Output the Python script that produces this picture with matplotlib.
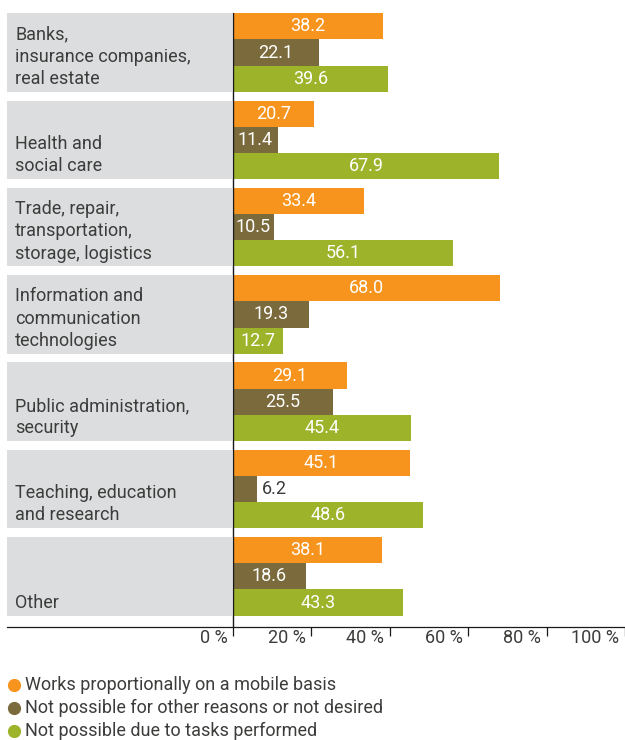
import matplotlib
matplotlib.use("Agg")
import matplotlib.pyplot as plt
from matplotlib.lines import Line2D
from matplotlib.patches import Rectangle

plt.rcParams["font.family"] = ["Roboto", "DejaVu Sans"]

categories = [
    "Banks,\ninsurance companies,\nreal estate",
    "Health and\nsocial care",
    "Trade, repair,\ntransportation,\nstorage, logistics",
    "Information and\ncommunication\ntechnologies",
    "Public administration,\nsecurity",
    "Teaching, education\nand research",
    "Other",
]
mobile = [38.2, 20.7, 33.4, 68.0, 29.1, 45.1, 38.1]
other_reasons = [22.1, 11.4, 10.5, 19.3, 25.5, 6.2, 18.6]
tasks = [39.6, 67.9, 56.1, 12.7, 45.4, 48.6, 43.3]

series = [
    ("Works proportionally on a mobile basis", mobile, "#f7941d"),
    ("Not possible for other reasons or not desired", other_reasons, "#7a6a3c"),
    ("Not possible due to tasks performed", tasks, "#9db32a"),
]
ticks = [0, 20, 40, 60, 80, 100]

W, H = 625, 740
TXT = "#3c3c3b"
GREY = "#dcdddf"
FS = 13

fig = plt.figure(figsize=(W / 100, H / 100), dpi=100)

# axes spans label panels + bars; x=0 sits at the zero line
left_px, right_px, top_px, bot_px = 7, 625, 13.3, 627
zero_px = 233.3
pxper = 3.93
xmin = -(zero_px - left_px) / pxper
xmax = (right_px - zero_px) / pxper
ax = fig.add_axes([left_px / W, 1 - bot_px / H,
                   (right_px - left_px) / W, (bot_px - top_px) / H])
ax.set_xlim(xmin, xmax)
ax.set_ylim(6.58, -0.45)

bh = 0.3
for i, cat in enumerate(categories):
    # grey label panel
    ax.add_patch(Rectangle((xmin, i - 0.45), -xmin - 0.15, 0.9,
                           facecolor=GREY, edgecolor="none", zorder=1))
    ax.text(xmin + 2.1, i + 0.405, cat, ha="left", va="bottom",
            fontsize=FS, color=TXT, linespacing=1.3, zorder=3)

for k, (name, vals, col) in enumerate(series):
    ys = [i + (k - 1) * bh for i in range(len(vals))]
    ax.barh(ys, vals, height=bh, color=col, zorder=2)
    for y, v in zip(ys, vals):
        if v < 8:
            ax.text(v + 1.3, y, f"{v:.1f}", ha="left", va="center",
                    fontsize=FS, color=TXT, zorder=3)
        else:
            ax.text(v / 2, y, f"{v:.1f}", ha="center", va="center",
                    fontsize=FS, color="white", zorder=3)

ax.axvline(0, color="#1a1a1a", lw=1.0, zorder=4)

for s in ["top", "left", "right"]:
    ax.spines[s].set_visible(False)
ax.spines["bottom"].set_color("#1a1a1a")
ax.spines["bottom"].set_linewidth(0.9)
ax.set_yticks([])
ax.set_xticks(ticks)
ax.set_xticklabels([])
ax.tick_params(axis="x", direction="out", length=6.5, width=0.9,
               color="#1a1a1a")
for t in ticks:
    ax.annotate(f"{t} %", xy=(t, 0), xycoords=("data", "axes fraction"),
                xytext=(-4, -8), textcoords="offset points",
                ha="right", va="center", fontsize=FS, color=TXT)

# legend
for k, (name, vals, col) in enumerate(series):
    yy = 1 - (685 + k * 23) / H
    fig.add_artist(Line2D([14.5 / W], [yy], marker="o", ms=8.5, color=col,
                          lw=0, transform=fig.transFigure))
    fig.text(25 / W, yy, name, ha="left", va="center", fontsize=FS, color=TXT)

fig.savefig("out.png", dpi=100)
